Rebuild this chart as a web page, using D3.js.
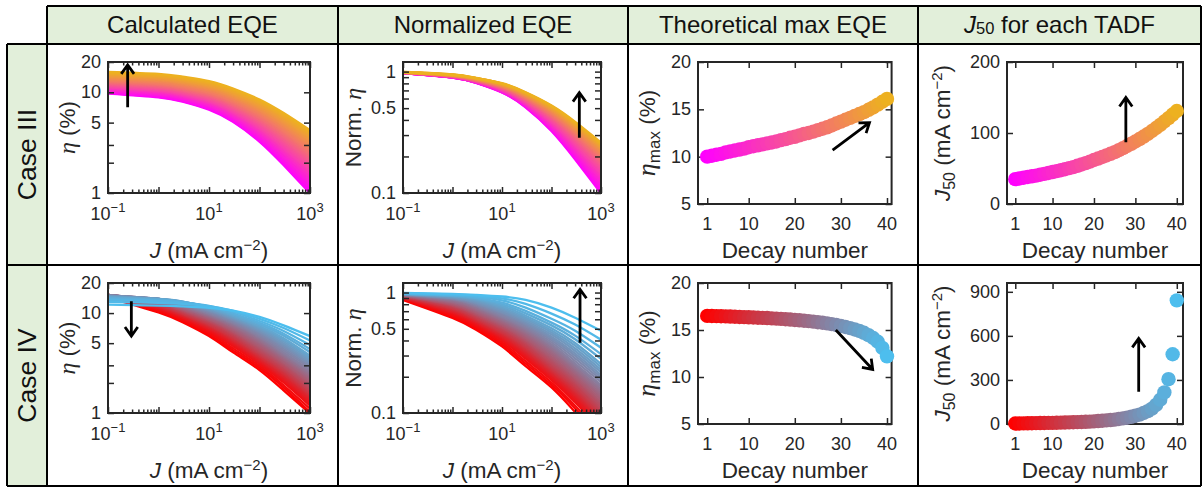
<!DOCTYPE html>
<html><head><meta charset="utf-8">
<script src="https://cdn.jsdelivr.net/npm/d3@7"></script>
<style>
body{margin:0;background:#fff}
svg{display:block}
text{font-family:"Liberation Sans",Arial,Helvetica,sans-serif}
</style>
</head><body>
<svg id="c" width="1204" height="489"></svg>
<script>
// ---------------- DATA ----------------
const headers = ["Calculated EQE", "Normalized EQE", "Theoretical max EQE", "J50 for each TADF"];
const cases = ["Case III", "Case IV"];
const decay = [1,2,3,4,5,6,7,8,9,10,11,12,13,14,15,16,17,18,19,20,21,22,23,24,25,26,27,28,29,30,31,32,33,34,35,36,37,38,39,40];
const jGrid = [0.1, 1, 3, 10, 30, 100, 300, 1000];

const etaMaxIII = [10.0,10.1,10.2,10.3,10.45,10.55,10.65,10.75,10.85,11.0,11.1,11.2,11.3,11.4,11.5,11.6,11.75,11.85,12.0,12.1,
  12.25,12.4,12.5,12.65,12.8,12.95,13.1,13.3,13.5,13.7,13.9,14.1,14.3,14.5,14.7,14.95,15.2,15.5,15.8,16.1];
const j50III = [35,36,37,38,39,40,41.2,42.4,43.7,45,46.3,47.6,49,50.5,52,53.8,55.6,57.6,59.7,62,
  64,66.2,68.4,70.7,73,75.8,78.7,81.7,84.8,88,91.5,95,98.8,102.8,107,111.5,116.2,121,126,131];
const etaMaxIV = [16.5,16.49,16.48,16.47,16.45,16.43,16.41,16.39,16.37,16.35,16.33,16.31,16.29,16.27,16.24,16.21,16.18,16.15,16.11,16.07,
  16.03,15.99,15.94,15.89,15.83,15.77,15.7,15.62,15.53,15.43,15.32,15.2,15.06,14.9,14.7,14.45,14.15,13.75,13.1,12.2];
const j50IV = [3.3,3.8,4.3,4.8,5.3,5.8,6.3,6.8,7.4,8,8.6,9.3,10,11,12,13,14,15,16.5,18,
  20,22,24.5,27,30,34,38,43,49,56,64,75,88,105,130,165,215,305,475,842];

// normalized EQE of each decay-number curve at jGrid
const normIII = [
[0.975,0.895,0.810,0.675,0.510,0.325,0.190,0.100],
[0.975,0.896,0.812,0.678,0.513,0.329,0.194,0.103],
[0.976,0.897,0.813,0.680,0.517,0.333,0.198,0.107],
[0.976,0.898,0.815,0.683,0.520,0.337,0.202,0.110],
[0.976,0.899,0.816,0.685,0.524,0.341,0.206,0.113],
[0.977,0.900,0.818,0.688,0.527,0.345,0.210,0.116],
[0.977,0.901,0.819,0.690,0.530,0.350,0.214,0.120],
[0.977,0.902,0.821,0.693,0.534,0.354,0.218,0.123],
[0.978,0.903,0.823,0.696,0.538,0.359,0.223,0.127],
[0.978,0.905,0.824,0.699,0.541,0.363,0.227,0.130],
[0.978,0.906,0.826,0.702,0.545,0.367,0.231,0.134],
[0.978,0.907,0.827,0.704,0.548,0.372,0.235,0.137],
[0.979,0.908,0.829,0.707,0.552,0.376,0.240,0.141],
[0.979,0.909,0.831,0.710,0.556,0.381,0.244,0.144],
[0.980,0.910,0.833,0.713,0.560,0.385,0.249,0.148],
[0.980,0.911,0.834,0.716,0.564,0.390,0.254,0.152],
[0.980,0.913,0.836,0.719,0.568,0.395,0.258,0.156],
[0.981,0.914,0.838,0.722,0.572,0.400,0.264,0.160],
[0.981,0.915,0.840,0.726,0.577,0.406,0.269,0.165],
[0.981,0.917,0.842,0.729,0.581,0.412,0.274,0.169],
[0.982,0.918,0.844,0.732,0.585,0.416,0.279,0.173],
[0.982,0.919,0.846,0.735,0.590,0.422,0.284,0.177],
[0.983,0.920,0.848,0.738,0.594,0.426,0.289,0.181],
[0.983,0.922,0.850,0.742,0.598,0.432,0.294,0.185],
[0.983,0.923,0.852,0.745,0.602,0.436,0.299,0.189],
[0.984,0.924,0.854,0.748,0.607,0.442,0.304,0.194],
[0.984,0.926,0.856,0.752,0.611,0.448,0.310,0.198],
[0.985,0.927,0.858,0.755,0.616,0.453,0.315,0.203],
[0.985,0.929,0.860,0.759,0.621,0.459,0.321,0.207],
[0.985,0.930,0.862,0.762,0.625,0.465,0.326,0.212],
[0.986,0.931,0.865,0.766,0.630,0.471,0.332,0.216],
[0.986,0.933,0.867,0.770,0.635,0.476,0.337,0.221],
[0.987,0.934,0.869,0.773,0.640,0.482,0.343,0.226],
[0.987,0.936,0.871,0.777,0.645,0.488,0.349,0.231],
[0.988,0.937,0.874,0.781,0.650,0.494,0.355,0.236],
[0.988,0.939,0.876,0.785,0.655,0.501,0.361,0.240],
[0.989,0.940,0.878,0.789,0.660,0.507,0.367,0.245],
[0.989,0.942,0.881,0.793,0.665,0.513,0.373,0.250],
[0.990,0.944,0.883,0.796,0.670,0.519,0.379,0.255],
[0.990,0.945,0.885,0.800,0.675,0.525,0.385,0.260]];

const normIV = [
[0.868,0.616,0.492,0.357,0.245,0.163,0.102,0.060],
[0.881,0.631,0.507,0.371,0.257,0.171,0.109,0.062],
[0.886,0.646,0.521,0.385,0.269,0.179,0.115,0.067],
[0.892,0.662,0.535,0.399,0.283,0.188,0.123,0.072],
[0.897,0.673,0.546,0.410,0.292,0.194,0.128,0.075],
[0.901,0.683,0.555,0.419,0.301,0.200,0.133,0.078],
[0.906,0.695,0.566,0.430,0.311,0.207,0.138,0.082],
[0.909,0.704,0.574,0.438,0.319,0.212,0.142,0.085],
[0.913,0.714,0.584,0.448,0.327,0.218,0.147,0.088],
[0.917,0.723,0.593,0.457,0.335,0.223,0.151,0.091],
[0.920,0.732,0.600,0.464,0.343,0.228,0.155,0.093],
[0.924,0.741,0.609,0.473,0.351,0.234,0.160,0.096],
[0.927,0.750,0.618,0.482,0.358,0.239,0.164,0.099],
[0.931,0.761,0.628,0.492,0.368,0.245,0.169,0.102],
[0.935,0.772,0.639,0.502,0.378,0.252,0.175,0.106],
[0.937,0.779,0.647,0.511,0.387,0.260,0.180,0.110],
[0.939,0.787,0.658,0.521,0.397,0.269,0.186,0.115],
[0.941,0.795,0.668,0.530,0.406,0.277,0.192,0.120],
[0.942,0.802,0.677,0.538,0.414,0.285,0.197,0.124],
[0.944,0.811,0.688,0.548,0.424,0.294,0.203,0.129],
[0.947,0.821,0.700,0.560,0.436,0.305,0.211,0.135],
[0.949,0.830,0.712,0.571,0.447,0.315,0.217,0.140],
[0.951,0.840,0.725,0.583,0.459,0.326,0.225,0.146],
[0.953,0.850,0.737,0.594,0.470,0.337,0.232,0.152],
[0.955,0.860,0.750,0.606,0.482,0.348,0.239,0.158],
[0.958,0.872,0.765,0.620,0.496,0.361,0.248,0.165],
[0.960,0.881,0.776,0.631,0.507,0.371,0.257,0.171],
[0.962,0.887,0.789,0.647,0.522,0.386,0.270,0.180],
[0.964,0.893,0.801,0.663,0.537,0.401,0.284,0.189],
[0.966,0.899,0.814,0.680,0.552,0.416,0.298,0.198],
[0.968,0.906,0.826,0.695,0.566,0.430,0.311,0.207],
[0.971,0.913,0.841,0.714,0.584,0.448,0.327,0.218],
[0.973,0.921,0.856,0.733,0.602,0.466,0.344,0.229],
[0.976,0.929,0.873,0.754,0.621,0.485,0.362,0.241],
[0.978,0.936,0.885,0.775,0.642,0.505,0.381,0.255],
[0.980,0.942,0.897,0.799,0.672,0.534,0.410,0.281],
[0.982,0.947,0.909,0.823,0.704,0.563,0.439,0.308],
[0.985,0.955,0.927,0.860,0.750,0.606,0.482,0.348],
[0.989,0.965,0.943,0.895,0.805,0.669,0.542,0.406],
[0.994,0.975,0.957,0.927,0.869,0.750,0.618,0.482]];

// tick values / labels
const jTickLabels = [0.1, 10, 1000];
const jTickExp = ["−1", "1", "3"];
const etaTicks = [1, 5, 10, 20];
const etaTickMarks = [1, 2, 3, 5, 10, 20];
const normTicks = [0.1, 0.5, 1];
const normTickLabels = ["0.1", "0.5", "1"];
const normTickMarks = [0.1, 0.2, 0.3, 0.4, 0.5, 0.6, 0.7, 0.8, 0.9, 1];
const decayTicks = [1, 10, 20, 30, 40];
const etaMaxTicks = [5, 10, 15, 20];
const j50TicksIII = [0, 100, 200];
const j50TicksIV = [0, 300, 600, 900];

// arrows in data coordinates [panel, x1, y1, x2(tip), y2(tip)]
const arrowsIII = [[0, 0.245, 7.1, 0.245, 18.7], [1, 365, 0.285, 365, 0.67], [2, 28.2, 10.7, 36.2, 13.6], [3, 27.7, 87, 27.7, 150]];
const arrowsIV  = [[0, 0.29, 13.1, 0.29, 5.9], [1, 377, 0.383, 377, 1.063], [2, 28.9, 15.0, 36.9, 10.8], [3, 30.8, 220, 30.8, 583]];

// ---------------- LAYOUT ----------------
const INK = "#262626";
const SERIF = '"Liberation Serif","Times New Roman",serif';
const svg = d3.select("#c");
const colX = [[108, 310], [403, 601], [698, 891.6], [1007, 1183]];
const rowY = [{top: 62, logBot: 193, linBot: 204}, {top: 283, logBot: 413, linBot: 424}];
const colIII = d3.interpolateRgb("#ff00ff", "#edb120");
const colIV = d3.interpolateRgb("#ff0000", "#4dbeee");

// table
const T = svg.append("g");
T.append("rect").attr("x", 47).attr("y", 6).attr("width", 1154).attr("height", 38).attr("fill", "#e2efda");
T.append("rect").attr("x", 7).attr("y", 44).attr("width", 40).attr("height", 442).attr("fill", "#e2efda");
const hLines = [[47, 1201, 6], [7, 1201, 44], [7, 1201, 265], [7, 1201, 486]];
const vLines = [[7, 44, 486], [47, 6, 486], [338, 6, 486], [628, 6, 486], [918, 6, 486], [1201, 6, 486]];
hLines.forEach(l => T.append("line").attr("x1", l[0]).attr("x2", l[1]).attr("y1", l[2]).attr("y2", l[2]).attr("stroke", "#000").attr("stroke-width", 2));
vLines.forEach(l => T.append("line").attr("x1", l[0]).attr("x2", l[0]).attr("y1", l[1]).attr("y2", l[2]).attr("stroke", "#000").attr("stroke-width", 2));

function rich(sel, x, y, parts, size, opt = {}) {
  const t = sel.append("text").attr("font-size", size).attr("fill", opt.fill || INK)
    .attr("text-anchor", opt.anchor || "middle");
  if (opt.rotate) t.attr("transform", `translate(${x},${y}) rotate(-90)`);
  else t.attr("x", x).attr("y", y);
  if (opt.dbase) t.attr("dominant-baseline", opt.dbase);
  parts.forEach(p => {
    const s = t.append("tspan").text(p.t);
    if (p.it) s.attr("font-style", "italic");
    if (p.serif) s.attr("font-family", SERIF);
    if (p.fs) s.attr("font-size", p.fs);
    if (p.dy) s.attr("dy", p.dy);
  });
  return t;
}

// headers
const hdrCx = [192.5, 483, 773, 1059.5];
rich(T, hdrCx[0], 33, [{t: headers[0]}], 24, {fill: "#111"});
rich(T, hdrCx[1], 33, [{t: headers[1]}], 24, {fill: "#111"});
rich(T, hdrCx[2], 33, [{t: headers[2]}], 24, {fill: "#111"});
rich(T, hdrCx[3], 33, [{t: "J", it: true}, {t: "50", fs: 16.5, dy: 1}, {t: " for each TADF", dy: -1}], 24, {fill: "#111"});
rich(T, 36, 154.5, [{t: cases[0]}], 26.5, {rotate: true, fill: "#111"});
rich(T, 36, 375.5, [{t: cases[1]}], 26.5, {rotate: true, fill: "#111"});

let clipId = 0;
function plotArea(xs, ys) {
  const [x0, x1] = xs.range(), [yb, yt] = ys.range();
  const id = "clip" + (clipId++);
  svg.append("clipPath").attr("id", id).append("rect")
    .attr("x", x0).attr("y", yt).attr("width", x1 - x0).attr("height", yb - yt);
  return id;
}
function ticksAndFrame(g, xs, ys, xMaj, xMin, yMaj) {
  const [x0, x1] = xs.range(), [yb, yt] = ys.range();
  const add = (gen, tr) => {
    const a = g.append("g").attr("transform", tr).call(gen);
    a.select(".domain").remove();
    a.selectAll("line").attr("stroke", INK).attr("stroke-width", 1.5);
    a.selectAll("text").remove();
  };
  add(d3.axisBottom(xs).tickValues(xMaj).tickSize(-6).tickFormat(""), `translate(0,${yb})`);
  add(d3.axisTop(xs).tickValues(xMaj).tickSize(-6).tickFormat(""), `translate(0,${yt})`);
  if (xMin) {
    add(d3.axisBottom(xs).tickValues(xMin).tickSize(-3.5).tickFormat(""), `translate(0,${yb})`);
    add(d3.axisTop(xs).tickValues(xMin).tickSize(-3.5).tickFormat(""), `translate(0,${yt})`);
  }
  add(d3.axisLeft(ys).tickValues(yMaj).tickSize(-6).tickFormat(""), `translate(${x0},0)`);
  add(d3.axisRight(ys).tickValues(yMaj).tickSize(-6).tickFormat(""), `translate(${x1},0)`);
  g.append("rect").attr("x", x0).attr("y", yt).attr("width", x1 - x0).attr("height", yb - yt)
    .attr("fill", "none").attr("stroke", INK).attr("stroke-width", 2);
}
function logXLabels(g, xs, yb) {
  jTickLabels.forEach((v, i) => rich(g, xs(v), yb + 27, [{t: "10"}, {t: jTickExp[i], fs: 13, dy: -8}], 18));
}
function yLabels(g, ys, x0, vals, labels) {
  vals.forEach((v, i) => rich(g, x0 - 7, ys(v), [{t: labels ? labels[i] : String(v)}], 18, {anchor: "end", dbase: "central"}));
}
function linXLabels(g, xs, yb) {
  decayTicks.forEach(v => rich(g, xs(v), yb + 26, [{t: String(v)}], 18));
}
function arrow(g, xs, ys, a) {
  const x1 = xs(a[1]), y1 = ys(a[2]), x2 = xs(a[3]), y2 = ys(a[4]);
  const ang = Math.atan2(y2 - y1, x2 - x1), L = 11, sp = 0.62;
  const p = `M${x1},${y1}L${x2},${y2}M${x2 - L * Math.cos(ang - sp)},${y2 - L * Math.sin(ang - sp)}L${x2},${y2}L${x2 - L * Math.cos(ang + sp)},${y2 - L * Math.sin(ang + sp)}`;
  g.append("path").attr("d", p).attr("fill", "none").attr("stroke", "#000").attr("stroke-width", 2.8).attr("stroke-linejoin", "miter");
}

const allLogTicks = d3.scaleLog().domain([0.1, 1000]).ticks();
const jMajor = allLogTicks.filter(v => Math.abs(Math.log10(v) - Math.round(Math.log10(v))) < 1e-9);
const jMinor = allLogTicks.filter(v => Math.abs(Math.log10(v) - Math.round(Math.log10(v))) >= 1e-9);

[0, 1].forEach(r => {
  const C = r === 0
    ? {etaMax: etaMaxIII, j50: j50III, norm: normIII, col: colIII, jDom: [0, 200], jTicks: j50TicksIII, arrows: arrowsIII, lw: 2.6}
    : {etaMax: etaMaxIV, j50: j50IV, norm: normIV, col: colIV, jDom: [0, 960], jTicks: j50TicksIV, arrows: arrowsIV, lw: 2.3};
  const R = rowY[r];
  const g = svg.append("g");
  const colorOf = k => C.col(k / 39);

  const xs1 = d3.scaleLog().domain([0.1, 1000]).range(colX[0]);
  const ys1 = d3.scaleLog().domain([1, 20]).range([R.logBot, R.top]);
  const xs2 = d3.scaleLog().domain([0.1, 1000]).range(colX[1]);
  const ys2 = d3.scaleLog().domain([0.1, 1.2]).range([R.logBot, R.top]);
  const xs3 = d3.scaleLinear().domain([-1, 41]).range(colX[2]);
  const ys3 = d3.scaleLinear().domain([5, 20]).range([R.linBot, R.top]);
  const xs4 = d3.scaleLinear().domain([-1, 41.5]).range(colX[3]);
  const ys4 = d3.scaleLinear().domain(C.jDom).range([R.linBot, R.top]);

  // panel 1 & 2 curves
  const c1 = plotArea(xs1, ys1), c2 = plotArea(xs2, ys2);
  const l1 = d3.line().x(d => xs1(d[0])).y(d => ys1(Math.max(d[1], 0.3))).curve(d3.curveNatural);
  const l2 = d3.line().x(d => xs2(d[0])).y(d => ys2(Math.max(d[1], 0.03))).curve(d3.curveNatural);
  const g1 = g.append("g").attr("clip-path", `url(#${c1})`);
  const g2 = g.append("g").attr("clip-path", `url(#${c2})`);
  decay.forEach((d, k) => {
    const pts1 = jGrid.map((J, i) => [J, C.etaMax[k] * C.norm[k][i]]);
    const pts2 = jGrid.map((J, i) => [J, C.norm[k][i]]);
    g1.append("path").attr("d", l1(pts1)).attr("fill", "none").attr("stroke", colorOf(k)).attr("stroke-width", C.lw);
    g2.append("path").attr("d", l2(pts2)).attr("fill", "none").attr("stroke", colorOf(k)).attr("stroke-width", C.lw);
  });
  ticksAndFrame(g, xs1, ys1, jMajor, jMinor, etaTickMarks);
  ticksAndFrame(g, xs2, ys2, jMajor, jMinor, normTickMarks);
  logXLabels(g, xs1, R.logBot); logXLabels(g, xs2, R.logBot);
  yLabels(g, ys1, colX[0][0], etaTicks);
  yLabels(g, ys2, colX[1][0], normTicks, normTickLabels);

  // panel 3 & 4 scatter
  ticksAndFrame(g, xs3, ys3, decayTicks, null, etaMaxTicks);
  ticksAndFrame(g, xs4, ys4, decayTicks, null, C.jTicks);
  decay.forEach((d, k) => {
    g.append("circle").attr("cx", xs3(d)).attr("cy", ys3(C.etaMax[k])).attr("r", 7.2).attr("fill", colorOf(k));
    g.append("circle").attr("cx", xs4(d)).attr("cy", ys4(C.j50[k])).attr("r", 7.2).attr("fill", colorOf(k));
  });
  linXLabels(g, xs3, R.linBot); linXLabels(g, xs4, R.linBot);
  yLabels(g, ys3, colX[2][0], etaMaxTicks);
  yLabels(g, ys4, colX[3][0], C.jTicks);

  // axis titles
  const jLab = [{t: "J", it: true}, {t: " (mA cm"}, {t: "−2", fs: 15, dy: -8}, {t: ")", dy: 8}];
  rich(g, d3.mean(colX[0]), R.logBot + 65, jLab, 22.5);
  rich(g, d3.mean(colX[1]), R.logBot + 65, jLab, 22.5);
  rich(g, d3.mean(colX[2]), R.linBot + 54, [{t: "Decay number"}], 22.5);
  rich(g, d3.mean(colX[3]), R.linBot + 54, [{t: "Decay number"}], 22.5);
  const cLog = (R.top + R.logBot) / 2, cLin = (R.top + R.linBot) / 2;
  rich(g, 75, cLog, [{t: "η", it: true, serif: true, fs: 24}, {t: " (%)"}], 22.5, {rotate: true});
  rich(g, 361, cLog, [{t: "Norm. "}, {t: "η", it: true, serif: true, fs: 24}], 22.5, {rotate: true});
  rich(g, 655, cLin, [{t: "η", it: true, serif: true, fs: 26}, {t: "max", fs: 17, dy: 5}, {t: " (%)", dy: -5}], 22.5, {rotate: true});
  rich(g, 950, cLin, [{t: "J", it: true}, {t: "50", fs: 16, dy: 5}, {t: " (mA cm", dy: -5}, {t: "−2", fs: 15, dy: -8}, {t: ")", dy: 8}], 22.5, {rotate: true});

  // arrows
  const sc = [[xs1, ys1], [xs2, ys2], [xs3, ys3], [xs4, ys4]];
  C.arrows.forEach(a => arrow(g, sc[a[0]][0], sc[a[0]][1], a));
});
</script>
</body></html>
